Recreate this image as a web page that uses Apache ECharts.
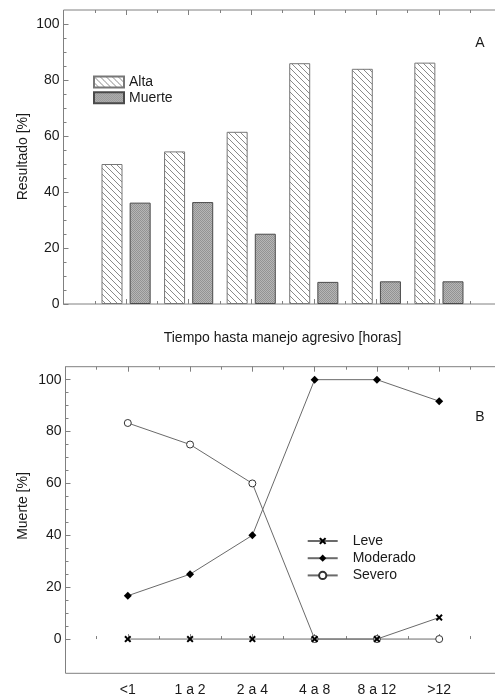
<!DOCTYPE html>
<html><head><meta charset="utf-8">
<script src="https://cdn.jsdelivr.net/npm/echarts@6/dist/echarts.min.js"></script>
<style>html,body{margin:0;padding:0;background:#fff}#c{width:495px;height:696px}</style>
</head><body><div id="c"></div>
<script>
// ---- data ----
const categories = ['<1', '1 a 2', '2 a 4', '4 a 8', '8 a 12', '>12'];
const alta = [50, 54.5, 61.5, 86, 84, 86.2];
const muerteBar = [36.2, 36.4, 25.1, 7.9, 8.1, 8.1];
const leve = [0, 0, 0, 0, 0, 8.3];
const moderado = [16.7, 25, 40, 100, 100, 91.7];
const severo = [83.3, 75, 60, 0, 0, 0];
const yMajorTicks = [0, 20, 40, 60, 80, 100];
const yMinorTicks = [0, 5, 10, 15, 20, 25, 30, 35, 40, 45, 50, 55, 60, 65, 70, 75, 80, 85, 90, 95, 100];

const FONT = 'Liberation Sans, Arial, Helvetica, sans-serif';
const TXT = '#1a1a1a';
const AX = '#808080';

// patterns
function hatch() {
  const c = document.createElement('canvas'); c.width = 6; c.height = 6;
  const g = c.getContext('2d');
  g.fillStyle = '#fff'; g.fillRect(0, 0, 6, 6);
  g.strokeStyle = '#8a8a8a'; g.lineWidth = 1;
  g.beginPath();
  g.moveTo(-1, -1); g.lineTo(7, 7);
  g.moveTo(-1, 5); g.lineTo(1, 7);
  g.moveTo(5, -1); g.lineTo(7, 1);
  g.stroke();
  return c;
}
function stipple() {
  const c = document.createElement('canvas'); c.width = 2; c.height = 2;
  const g = c.getContext('2d');
  g.fillStyle = '#b6b6b6'; g.fillRect(0, 0, 2, 2);
  g.fillStyle = '#939393'; g.fillRect(0, 0, 1, 1); g.fillRect(1, 1, 1, 1);
  return c;
}
const hatchFill = { image: hatch(), repeat: 'repeat' };
const stippleFill = { image: stipple(), repeat: 'repeat' };

const pos = v => categories.map((c, i) => [i + 1, v[i]]);

function xLabel(v) {
  const r = Math.round(v);
  if (Math.abs(v - r) < 1e-6 && r >= 1 && r <= categories.length) return categories[r - 1];
  return '';
}

function xAxesFor(gi, showLabels, name) {
  const base = {
    type: 'value', gridIndex: gi, min: 0, max: 7,
    axisLine: { show: false }, splitLine: { show: false }
  };
  return [
    Object.assign({}, base, {
      position: 'bottom', interval: 1,
      axisTick: { inside: true, length: 5, lineStyle: { color: AX } },
      axisLabel: { show: showLabels, formatter: xLabel, margin: 10, color: TXT, fontSize: 14, fontFamily: FONT },
      name: name || '', nameLocation: 'middle', nameGap: 27,
      nameTextStyle: { color: TXT, fontSize: 14, fontFamily: FONT }
    }),
    Object.assign({}, base, {
      position: 'bottom', interval: 0.5,
      axisTick: { inside: true, length: 3, lineStyle: { color: AX } },
      axisLabel: { show: false }
    }),
    Object.assign({}, base, {
      position: 'top', interval: 1,
      axisTick: { inside: true, length: 5, lineStyle: { color: AX } },
      axisLabel: { show: false }
    }),
    Object.assign({}, base, {
      position: 'top', interval: 0.5,
      axisTick: { inside: true, length: 3, lineStyle: { color: AX } },
      axisLabel: { show: false }
    })
  ];
}

function yAxesFor(gi, min, max) {
  return [
    {
      type: 'value', gridIndex: gi, min: min, max: max, position: 'left',
      axisLine: { show: false }, splitLine: { show: false },
      axisTick: { inside: true, length: 5, lineStyle: { color: AX }, customValues: yMajorTicks },
      axisLabel: { customValues: yMajorTicks, margin: 4, color: TXT, fontSize: 14, fontFamily: FONT }
    },
    {
      type: 'value', gridIndex: gi, min: min, max: max, position: 'left',
      axisLine: { show: false }, splitLine: { show: false },
      axisTick: { inside: true, length: 3, lineStyle: { color: AX }, customValues: yMinorTicks },
      axisLabel: { show: false }
    }
  ];
}

const xSym = 'path://M0,2 L2,0 L5,3 L8,0 L10,2 L7,5 L10,8 L8,10 L5,7 L2,10 L0,8 L3,5 Z';
const lineStyle = { color: '#6a6a6a', width: 1 };

const option = {
  animation: false,
  backgroundColor: '#fff',
  textStyle: { fontFamily: FONT },
  grid: [
    { left: 63.5, width: 438, top: 10, height: 294, show: true, borderColor: AX, borderWidth: 1,
      outerBoundsMode: 'none', containLabel: false },
    { left: 65.5, width: 436, top: 366.7, height: 306.6, show: true, borderColor: AX, borderWidth: 1,
      outerBoundsMode: 'none', containLabel: false }
  ],
  xAxis: xAxesFor(0, false, 'Tiempo hasta manejo agresivo [horas]').concat(xAxesFor(1, true, '')),
  yAxis: yAxesFor(0, 0, 105).concat(yAxesFor(1, -13.2, 105)),
  legend: [
    {
      data: ['Alta', 'Muerte'], orient: 'vertical', left: 93, top: 75, padding: 0,
      itemWidth: 30, itemHeight: 11, itemGap: 1.7, icon: 'rect',
      textStyle: { color: TXT, fontSize: 14, fontFamily: FONT }
    },
    {
      data: ['Leve', 'Moderado', 'Severo'], orient: 'vertical', left: 306.7, top: 534, padding: 0,
      itemWidth: 30, itemHeight: 9, itemGap: 3.2,
      textStyle: { color: TXT, fontSize: 14, fontFamily: FONT, padding: [0, 0, 0, 10] }
    }
  ],
  graphic: [
    { type: 'text', x: 22.7, y: 156.7, rotation: Math.PI / 2,
      style: { text: 'Resultado [%]', fill: TXT, font: '14px ' + FONT, textAlign: 'center', textVerticalAlign: 'middle' } },
    { type: 'text', x: 22.7, y: 506, rotation: Math.PI / 2,
      style: { text: 'Muerte [%]', fill: TXT, font: '14px ' + FONT, textAlign: 'center', textVerticalAlign: 'middle' } },
    { type: 'text', x: 480, y: 42.7,
      style: { text: 'A', fill: TXT, font: '14px ' + FONT, textAlign: 'center', textVerticalAlign: 'middle' } },
    { type: 'text', x: 480, y: 416.7,
      style: { text: 'B', fill: TXT, font: '14px ' + FONT, textAlign: 'center', textVerticalAlign: 'middle' } }
  ],
  series: [
    { name: 'Alta', type: 'bar', xAxisIndex: 0, yAxisIndex: 0, data: pos(alta),
      barWidth: 21, barGap: '34%',
      itemStyle: { color: hatchFill, borderColor: '#777', borderWidth: 1 } },
    { name: 'Muerte', type: 'bar', xAxisIndex: 0, yAxisIndex: 0, data: pos(muerteBar),
      barWidth: 21, barGap: '34%',
      itemStyle: { color: stippleFill, borderColor: '#4a4a4a', borderWidth: 1 } },
    { name: 'Leve', type: 'line', xAxisIndex: 4, yAxisIndex: 2, data: pos(leve), z: 4,
      symbol: xSym, symbolSize: 7, showAllSymbol: true,
      lineStyle: lineStyle, itemStyle: { color: '#000' } },
    { name: 'Moderado', type: 'line', xAxisIndex: 4, yAxisIndex: 2, data: pos(moderado), z: 3,
      symbol: 'diamond', symbolSize: 8, showAllSymbol: true,
      lineStyle: lineStyle, itemStyle: { color: '#000' } },
    { name: 'Severo', type: 'line', xAxisIndex: 4, yAxisIndex: 2, data: pos(severo), z: 2,
      symbol: 'circle', symbolSize: 7, showAllSymbol: true,
      lineStyle: lineStyle, itemStyle: { color: '#fff', borderColor: '#333', borderWidth: 1 } }
  ]
};

echarts.init(document.getElementById('c'), null, { renderer: 'canvas' }).setOption(option);
</script>
</body></html>
